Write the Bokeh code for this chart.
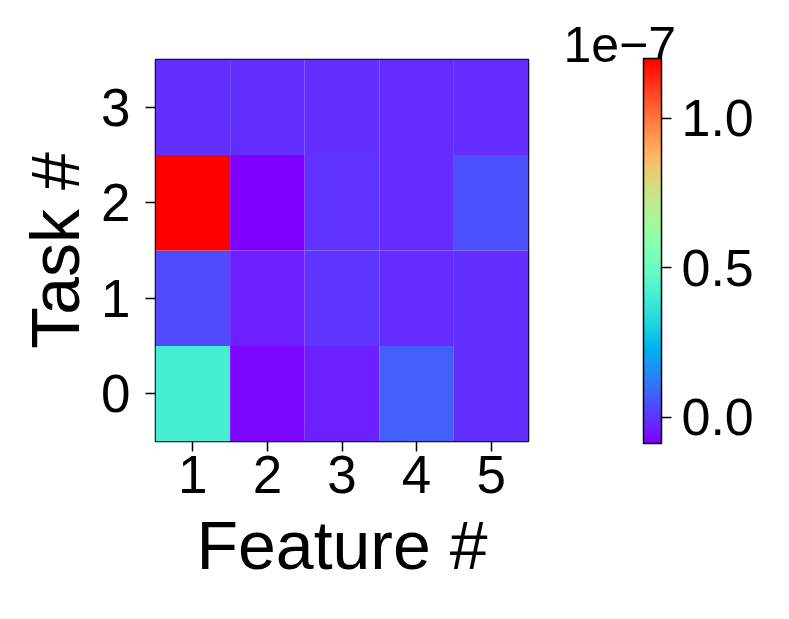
import math
from bokeh.plotting import figure
from bokeh.models import (ColumnDataSource, LinearColorMapper, ColorBar, FixedTicker,
                          PrintfTickFormatter, Title)
from bokeh.embed import file_html
from bokeh.resources import INLINE

# ---- data (values in units of 1e-7) ----
features = [1, 2, 3, 4, 5]
tasks = [0, 1, 2, 3]
task0 = [0.41, -0.073, -0.036, 0.07, -0.01]
task1 = [0.035, -0.033, 0.002, -0.012, -0.01]
task2 = [1.20, -0.087, -0.004, -0.012, 0.045]
task3 = [-0.01, -0.01, -0.01, -0.012, -0.012]
rows = [task0, task1, task2, task3]
cbar_ticks = [0.0, 0.5, 1.0]
offset_text = "1e\u22127"

# matplotlib-like "rainbow" palette
def _c(v):
    return int(round(max(0.0, min(1.0, v)) * 255))
palette = []
for i in range(256):
    t = i / 255.0
    r = abs(2 * t - 0.5)
    g = math.sin(math.pi * t)
    b = math.cos(math.pi * t / 2)
    palette.append("#%02x%02x%02x" % (_c(r), _c(g), _c(b)))

xs, ys, vals = [], [], []
for ti, row in zip(tasks, rows):
    for f, v in zip(features, row):
        xs.append(f)
        ys.append(ti)
        vals.append(v)
src = ColumnDataSource(dict(x=xs, y=ys, v=vals))

mapper = LinearColorMapper(palette=palette, low=min(vals), high=max(vals))

FONT = "Liberation Sans"
W, H = 789, 619
p = figure(width=W, height=H, output_backend="svg", toolbar_location=None,
           x_range=(0.5, 5.5), y_range=(-0.5, 3.5),
           min_border_left=155, min_border_top=59, min_border_bottom=178,
           min_border_right=261, title=None)
p.rect(x="x", y="y", width=1, height=1, source=src,
       fill_color={"field": "v", "transform": mapper}, line_color=None)

p.grid.visible = False
p.outline_line_color = "black"
p.outline_line_width = 1.5
p.background_fill_color = "white"
p.border_fill_color = "white"

for ax in (p.xaxis[0], p.yaxis[0]):
    ax.axis_line_color = None
    ax.major_tick_in = 0
    ax.major_tick_out = 10
    ax.major_tick_line_width = 1.5
    ax.minor_tick_line_color = None
    ax.major_label_text_font = FONT
    ax.major_label_text_font_size = "53px"
    ax.major_label_text_color = "black"
    ax.axis_label_text_font = FONT
    ax.axis_label_text_font_size = "68px"
    ax.axis_label_text_font_style = "normal"
    ax.axis_label_text_color = "black"

p.xaxis.ticker = FixedTicker(ticks=features)
p.yaxis.ticker = FixedTicker(ticks=tasks)
p.xaxis.axis_label = "Feature #"
p.yaxis.axis_label = "Task #"
p.xaxis.major_label_standoff = 4
p.yaxis.major_label_standoff = 15
p.xaxis.axis_label_standoff = 11
p.yaxis.axis_label_standoff = 5

cb = ColorBar(color_mapper=mapper, width=18, height=385, location=(115, -2),
              padding=0, margin=0,
              ticker=FixedTicker(ticks=cbar_ticks),
              formatter=PrintfTickFormatter(format="%.1f"),
              major_tick_in=0, major_tick_out=10, major_tick_line_color="black",
              major_tick_line_width=1.5,
              bar_line_color="black", bar_line_width=1.5,
              border_line_color=None, background_fill_color=None,
              label_standoff=10,
              major_label_text_font=FONT, major_label_text_font_size="52px",
              major_label_text_color="black")
p.add_layout(cb, "right")

t = Title(text=offset_text, align="left", offset=408, standoff=-4,
          text_font=FONT, text_font_size="50px", text_font_style="normal",
          text_color="black")
p.add_layout(t, "above")

open("out.html", "w").write(file_html(p, INLINE))
